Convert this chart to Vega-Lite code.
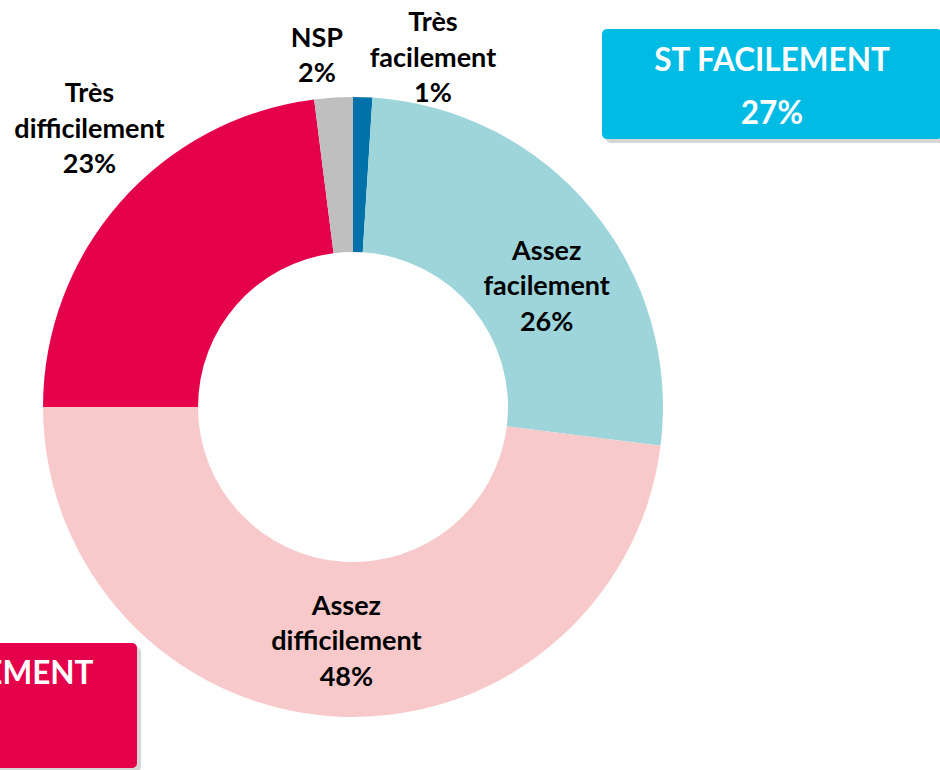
{
  "$schema": "https://vega.github.io/schema/vega-lite/v6.json",
  "width": 706,
  "height": 726,
  "autosize": {"type": "none"},
  "padding": {"left": 0, "top": 44, "right": 234, "bottom": 0},
  "background": "white",
  "config": {"view": {"stroke": null}, "font": "Lato"},
  "datasets": {
    "slices": [
      {"category": "Très facilement", "share": 0.01, "rank": 1},
      {"category": "Assez facilement", "share": 0.26, "rank": 2},
      {"category": "Assez difficilement", "share": 0.48, "rank": 3},
      {"category": "Très difficilement", "share": 0.23, "rank": 4},
      {"category": "NSP", "share": 0.02, "rank": 5}
    ],
    "boxes": [
      {"group": "ST FACILEMENT", "share": 0.27},
      {"group": "ST DIFFICILEMENT", "share": 0.71}
    ]
  },
  "layer": [
    {
      "data": {"name": "slices"},
      "layer": [
        {
          "mark": {"type": "arc", "outerRadius": 310, "innerRadius": 155, "strokeWidth": 0},
          "encoding": {
            "theta": {"field": "share", "type": "quantitative", "stack": true},
            "color": {
              "field": "category",
              "type": "nominal",
              "scale": {
                "domain": ["Très facilement", "Assez facilement", "Assez difficilement", "Très difficilement", "NSP"],
                "range": ["#0071A9", "#9DD5DB", "#F7C9CA", "#E5004C", "#BFBFBF"]
              },
              "legend": null
            },
            "order": {"field": "rank", "type": "quantitative"}
          }
        },
        {
          "mark": {
            "type": "text",
            "fontSize": 27,
            "fontWeight": "bold",
            "color": "#000000",
            "align": "center",
            "baseline": "middle",
            "lineBreak": " ",
            "lineHeight": 35.5,
            "text": {"expr": "datum.category + ' ' + format(datum.share, '.0%')"},
            "radius": {"expr": "[349, 228, 233, 382, 352][datum.rank - 1]"},
            "dx": {"expr": "[69, 18, 8, 23, -14][datum.rank - 1]"},
            "dy": {"expr": "[-35, -10, -33, -60, -17][datum.rank - 1]"}
          },
          "encoding": {
            "theta": {"field": "share", "type": "quantitative", "stack": true},
            "detail": {"field": "category", "type": "nominal"},
            "order": {"field": "rank", "type": "quantitative"}
          }
        }
      ]
    },
    {
      "data": {"name": "boxes"},
      "transform": [{"filter": "datum.group === 'ST FACILEMENT'"}],
      "mark": {"type": "rect", "color": "#000000", "opacity": 0.16, "cornerRadius": 5},
      "encoding": {
        "x": {"field": "group", "type": "nominal", "axis": null, "scale": {"range": [606, 946], "paddingInner": 0, "paddingOuter": 0}},
        "y": {"field": "group", "type": "nominal", "axis": null, "scale": {"range": [-11, 99], "paddingInner": 0, "paddingOuter": 0}}
      }
    },
    {
      "data": {"name": "boxes"},
      "transform": [{"filter": "datum.group === 'ST FACILEMENT'"}],
      "layer": [
        {
          "mark": {"type": "rect", "color": "#00BBE3", "cornerRadius": 5},
          "encoding": {
            "x": {"field": "group", "type": "nominal", "axis": null, "scale": {"range": [602, 942], "paddingInner": 0, "paddingOuter": 0}},
            "y": {"field": "group", "type": "nominal", "axis": null, "scale": {"range": [-15, 95], "paddingInner": 0, "paddingOuter": 0}}
          }
        },
        {
          "mark": {"type": "text", "fontSize": 31.5, "fontWeight": "bold", "color": "#FFFFFF", "align": "center", "baseline": "alphabetic", "dy": 42},
          "encoding": {
            "x": {"field": "group", "type": "nominal", "bandPosition": 0.5},
            "y": {"field": "group", "type": "nominal", "bandPosition": 0},
            "text": {"field": "group", "type": "nominal"}
          }
        },
        {
          "mark": {"type": "text", "fontSize": 31.5, "fontWeight": "bold", "color": "#FFFFFF", "align": "center", "baseline": "alphabetic", "dy": 95},
          "encoding": {
            "x": {"field": "group", "type": "nominal", "bandPosition": 0.5},
            "y": {"field": "group", "type": "nominal", "bandPosition": 0},
            "text": {"field": "share", "type": "quantitative", "format": ".0%"}
          }
        }
      ]
    },
    {
      "data": {"name": "boxes"},
      "transform": [{"filter": "datum.group === 'ST DIFFICILEMENT'"}],
      "mark": {"type": "rect", "color": "#000000", "opacity": 0.16, "cornerRadius": 5},
      "encoding": {
        "x": {"field": "group", "type": "nominal", "axis": null, "scale": {"range": [-199, 141], "paddingInner": 0, "paddingOuter": 0}},
        "y": {"field": "group", "type": "nominal", "axis": null, "scale": {"range": [603, 728], "paddingInner": 0, "paddingOuter": 0}}
      }
    },
    {
      "data": {"name": "boxes"},
      "transform": [{"filter": "datum.group === 'ST DIFFICILEMENT'"}],
      "layer": [
        {
          "mark": {"type": "rect", "color": "#E5004C", "cornerRadius": 5},
          "encoding": {
            "x": {"field": "group", "type": "nominal", "axis": null, "scale": {"range": [-203, 137], "paddingInner": 0, "paddingOuter": 0}},
            "y": {"field": "group", "type": "nominal", "axis": null, "scale": {"range": [599, 724], "paddingInner": 0, "paddingOuter": 0}}
          }
        },
        {
          "mark": {"type": "text", "fontSize": 31.5, "fontWeight": "bold", "color": "#FFFFFF", "align": "center", "baseline": "alphabetic", "dy": 41, "dx": -12},
          "encoding": {
            "x": {"field": "group", "type": "nominal", "bandPosition": 0.5},
            "y": {"field": "group", "type": "nominal", "bandPosition": 0},
            "text": {"field": "group", "type": "nominal"}
          }
        },
        {
          "mark": {"type": "text", "fontSize": 31.5, "fontWeight": "bold", "color": "#FFFFFF", "align": "center", "baseline": "alphabetic", "dy": 94, "dx": -12},
          "encoding": {
            "x": {"field": "group", "type": "nominal", "bandPosition": 0.5},
            "y": {"field": "group", "type": "nominal", "bandPosition": 0},
            "text": {"field": "share", "type": "quantitative", "format": ".0%"}
          }
        }
      ]
    }
  ],
  "resolve": {"scale": {"x": "independent", "y": "independent"}}
}
